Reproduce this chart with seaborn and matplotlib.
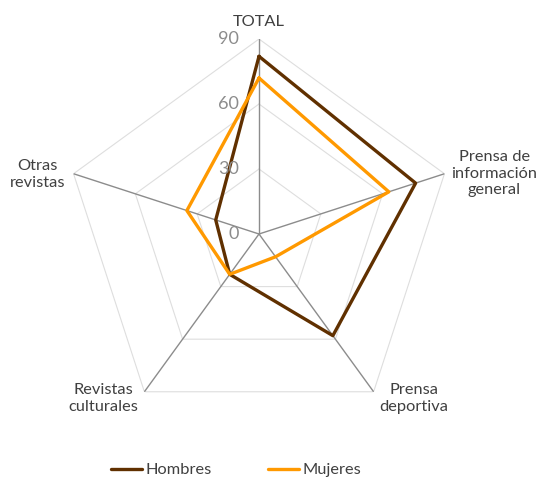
import numpy as np
import pandas as pd
import matplotlib
matplotlib.use('Agg')
import matplotlib.pyplot as plt
import seaborn as sns

# data
categories = ['TOTAL', 'Prensa de\ninformación\ngeneral', 'Prensa\ndeportiva',
              'Revistas\nculturales', 'Otras\nrevistas']
hombres = [82, 76, 58, 23, 21]
mujeres = [72, 63, 13, 23, 35]
series_names = ['Hombres', 'Mujeres']
series_colors = ['#603000', '#FF9900']
ring_ticks = [0, 30, 60, 90]

sns.set_style('white')
plt.rcParams['font.family'] = ['Lato', 'DejaVu Sans']

n = len(categories)
theta = np.linspace(0, 2 * np.pi, n, endpoint=False)
theta_closed = np.append(theta, 2 * np.pi)

rows = []
for name, vals in zip(series_names, [hombres, mujeres]):
    closed = list(vals) + [vals[0]]
    for t, v in zip(theta_closed, closed):
        rows.append({'theta': t, 'value': v, 'serie': name})
df = pd.DataFrame(rows)

fig = plt.figure(figsize=(5.38, 4.8), dpi=100)
# center at ~(259,234) px, radius ~195 px
ax = fig.add_axes([64 / 538, 51 / 480, 390 / 538, 390 / 480], projection='polar')
ax.set_theta_offset(np.pi / 2)
ax.set_theta_direction(-1)
ax.set_ylim(0, 90)
ax.grid(False)
ax.spines['polar'].set_visible(False)
ax.set_xticks([])
ax.set_yticks([])

# pentagon grid and spokes
for r in ring_ticks[1:]:
    ax.plot(theta_closed, [r] * (n + 1), color='#dedede', lw=0.8, zorder=1)
for t in theta:
    ax.plot([t, t], [0, 90], color='#8c8c8c', lw=1.0, zorder=1)

sns.lineplot(data=df, x='theta', y='value', hue='serie', sort=False, estimator=None,
             palette=dict(zip(series_names, series_colors)), linewidth=2.4, ax=ax, zorder=3)
ax.set_xlabel('')
ax.set_ylabel('')

# ring labels
for r in ring_ticks:
    ax.annotate(str(r), xy=(0, r), xytext=(-20, 0), textcoords='offset pixels',
                ha='right', va='center', fontsize=13, color='#8c8c8c')

# category labels
label_offsets = [((0, 17), 'center', 'center'),
                 ((7, 0), 'left', 'center'),
                 ((6, -7), 'left', 'center'),
                 ((-6, -7), 'right', 'center'),
                 ((-8, -1), 'right', 'center')]
for t, lab, (off, ha, va) in zip(theta, categories, label_offsets):
    ax.annotate(lab, xy=(t, 90), xytext=off, textcoords='offset pixels',
                ha=ha, va=va, multialignment='center', fontsize=11.8,
                color='#404040', linespacing=1.25, annotation_clip=False)

handles, labels = ax.get_legend_handles_labels()
ax.get_legend().remove()
fig.legend(handles, labels, loc='center', bbox_to_anchor=(236 / 538, 1 - 470 / 480),
           ncol=2, frameon=False, fontsize=11.8, handlelength=1.9, handletextpad=0.2,
           columnspacing=3.4, labelcolor='#404040')

fig.savefig('out.png', dpi=100)
